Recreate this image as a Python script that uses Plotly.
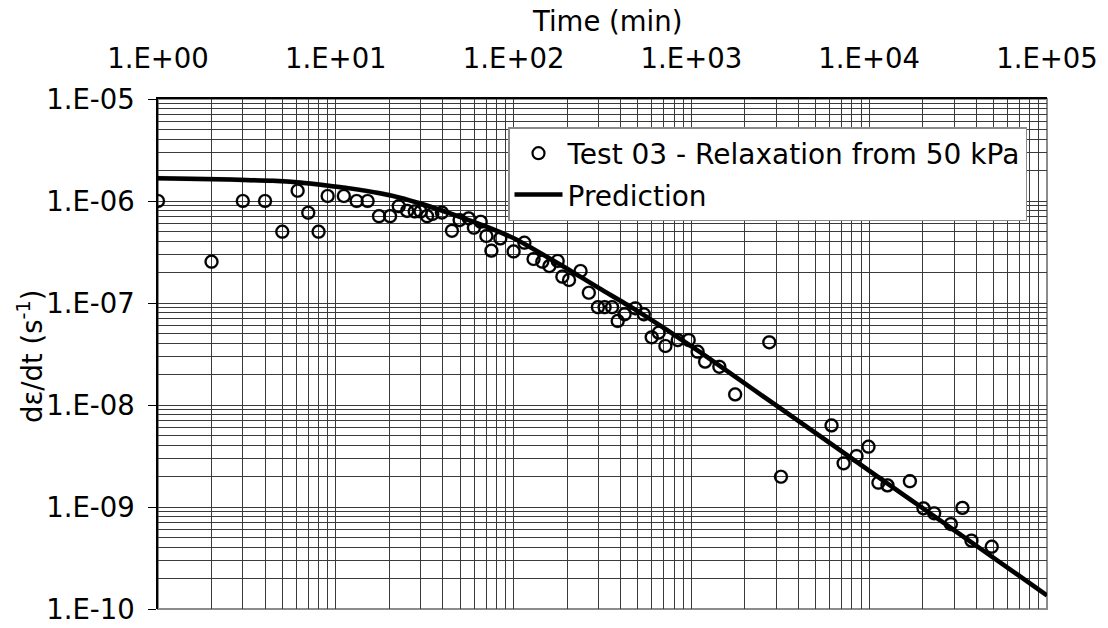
import plotly.graph_objects as go

# ---- data ----
time_min = [1.0, 2.0, 3.0, 4.0, 5.0, 6.1, 7.0, 8.0, 9.0, 11.1, 13.1, 15.1, 17.5, 20.2,
            22.6, 25.2, 27.8, 30.0, 32.6, 34.9, 39.5, 45.0, 49.7, 55.9, 59.8, 65.3, 70.3,
            75.0, 84.2, 100.0, 115, 129.5, 145, 159, 177, 188, 205, 238, 265, 298, 325,
            358, 385, 421, 484, 540, 598, 655, 714, 838, 966, 1084, 1194, 1436, 1762,
            2742, 3190, 6140, 7180, 8490, 9910, 11270, 12670, 16940, 20200, 23200, 28800,
            33450, 37600, 48900]
strain_rate = [1.0e-6, 2.54e-7, 1.0e-6, 1.0e-6, 5.0e-7, 1.26e-6, 7.67e-7, 5.0e-7, 1.12e-6,
               1.12e-6, 1.0e-6, 1.0e-6, 7.1e-7, 7.1e-7, 8.9e-7, 8.0e-7, 7.9e-7, 7.9e-7,
               7.1e-7, 7.46e-7, 7.7e-7, 5.1e-7, 6.5e-7, 6.76e-7, 5.47e-7, 6.26e-7, 4.54e-7,
               3.26e-7, 4.3e-7, 3.2e-7, 3.9e-7, 2.7e-7, 2.54e-7, 2.3e-7, 2.58e-7, 1.81e-7,
               1.68e-7, 2.06e-7, 1.26e-7, 9.1e-8, 9.1e-8, 9.1e-8, 6.67e-8, 7.75e-8, 8.87e-8,
               7.75e-8, 4.61e-8, 5.12e-8, 3.79e-8, 4.33e-8, 4.33e-8, 3.33e-8, 2.66e-8,
               2.37e-8, 1.27e-8, 4.12e-8, 1.98e-9, 6.31e-9, 2.68e-9, 3.16e-9, 3.9e-9,
               1.73e-9, 1.63e-9, 1.79e-9, 9.7e-10, 8.67e-10, 6.8e-10, 9.8e-10, 4.68e-10,
               4.08e-10]

pred_time = [1.0, 2.14, 3.08, 4.44, 6.28, 8.67, 12.0, 17.7, 22.9, 29.6, 47.6, 70.2, 103.5,
             198, 304, 468, 721, 1109, 1706, 3000, 6220, 10900, 22700, 43300, 100000]
pred_rate = [1.67e-6, 1.63e-6, 1.61e-6, 1.58e-6, 1.52e-6, 1.43e-6, 1.33e-6, 1.19e-6,
             1.08e-6, 9.5e-7, 7.2e-7, 5.6e-7, 4.2e-7, 2.19e-7, 1.39e-7, 8.9e-8, 5.5e-8,
             3.33e-8, 1.97e-8, 9.9e-9, 4.06e-9, 2.04e-9, 8.35e-10, 3.79e-10, 1.36e-10]

x_tick_vals = [1, 10, 100, 1000, 10000, 100000]
x_tick_text = ["1.E+00", "1.E+01", "1.E+02", "1.E+03", "1.E+04", "1.E+05"]
y_tick_vals = [1e-10, 1e-9, 1e-8, 1e-7, 1e-6, 1e-5]
y_tick_text = ["1.E-10", "1.E-09", "1.E-08", "1.E-07", "1.E-06", "1.E-05"]

series_name = "Test 03 - Relaxation from 50 kPa"
line_name = "Prediction"

x_minor = [m * 10 ** d for d in range(0, 5) for m in range(2, 10)]
y_minor = [m * 10 ** d for d in range(-10, -5) for m in range(2, 10)]

FONT = "DejaVu Sans, Verdana, sans-serif"
FS = 27.5
W_PX, H_PX = 1108, 628
L, R, T, B = 158, 59, 99, 17
PW = W_PX - L - R
PH = H_PX - T - B
sx = 2 / PW
sy = 2 / PH

fig = go.Figure()

fig.add_trace(go.Scatter(x=time_min, y=strain_rate, mode="markers", name=series_name,
                         legendgroup="a",
                         marker=dict(symbol="circle-open", size=12, color="black",
                                     line=dict(color="black", width=2.2))))
fig.add_trace(go.Scatter(x=pred_time, y=pred_rate, mode="lines", name=line_name,
                         legendgroup="b", line_shape="spline",
                         line=dict(color="black", width=4.5, smoothing=0.6)))

# soft shadows: same data drawn on invisible overlay axes offset by 2 px
fig.add_trace(go.Scatter(x=pred_time, y=pred_rate, mode="lines", xaxis="x2", yaxis="y2",
                         line_shape="spline",
                         line=dict(color="rgba(0,0,0,0.2)", width=5, smoothing=0.6),
                         showlegend=False, hoverinfo="skip"))
fig.add_trace(go.Scatter(x=time_min, y=strain_rate, mode="markers", xaxis="x2", yaxis="y2",
                         marker=dict(symbol="circle-open", size=12, color="rgba(0,0,0,0.2)",
                                     line=dict(color="rgba(0,0,0,0.2)", width=3)),
                         showlegend=False, hoverinfo="skip"))

grid_col = "#3a3a3a"
fig.update_layout(
    width=W_PX, height=H_PX,
    margin=dict(l=L, r=R, t=T, b=B),
    paper_bgcolor="white", plot_bgcolor="white",
    font=dict(family=FONT, size=FS, color="black"),
    xaxis=dict(type="log", side="top", range=[0, 5], domain=[0, 1 - sx],
               tickmode="array", tickvals=x_tick_vals, ticktext=x_tick_text,
               showgrid=True, gridcolor=grid_col, gridwidth=1,
               minor=dict(tickmode="array", tickvals=x_minor, showgrid=True,
                          gridcolor=grid_col, gridwidth=1, ticks=""),
               showline=True, linecolor="black", linewidth=1.5,
               ticks="", ticklabelstandoff=18, zeroline=False, automargin=False,
               tickfont=dict(size=FS, family=FONT), anchor="y"),
    yaxis=dict(type="log", range=[-10, -5], domain=[sy, 1],
               tickmode="array", tickvals=y_tick_vals, ticktext=y_tick_text,
               showgrid=True, gridcolor=grid_col, gridwidth=1,
               minor=dict(tickmode="array", tickvals=y_minor, showgrid=True,
                          gridcolor=grid_col, gridwidth=1, ticks=""),
               showline=True, linecolor="black", linewidth=1.5,
               ticks="outside", ticklen=8, tickcolor="black", tickwidth=1.2,
               ticklabelstandoff=8, zeroline=False, automargin=False,
               tickfont=dict(size=FS, family=FONT), anchor="x"),
    xaxis2=dict(type="log", range=[0, 5], domain=[sx, 1], overlaying="x",
                visible=False, anchor="y2", automargin=False),
    yaxis2=dict(type="log", range=[-10, -5], domain=[0, 1 - sy], overlaying="y",
                visible=False, anchor="x2", automargin=False),
    legend=dict(x=(508 - L) / PW, y=(H_PX - B - 127) / PH, xanchor="left", yanchor="top",
                bgcolor="white", bordercolor="#8a8a8a", borderwidth=1.5,
                font=dict(size=28, family=FONT), traceorder="grouped",
                tracegroupgap=2, itemwidth=48),
    showlegend=True,
    shapes=[dict(type="rect", xref="paper", yref="paper", x0=0, x1=1 - sx, y0=sy, y1=1,
                 line=dict(color="#8c8c8c", width=2), layer="below")],
    annotations=[
        dict(text="Time (min)", xref="paper", yref="paper",
             x=(607 - L) / PW, y=(H_PX - B - 21) / PH, xanchor="center", yanchor="middle",
             showarrow=False, font=dict(size=FS, family=FONT)),
        dict(text="dε/dt (s<sup>-1</sup>)", xref="paper", yref="paper",
             x=(30 - L) / PW, y=(H_PX - B - 356) / PH, xanchor="center", yanchor="middle",
             textangle=-90, showarrow=False, font=dict(size=FS, family=FONT)),
    ],
)

fig.write_html("out.html")
